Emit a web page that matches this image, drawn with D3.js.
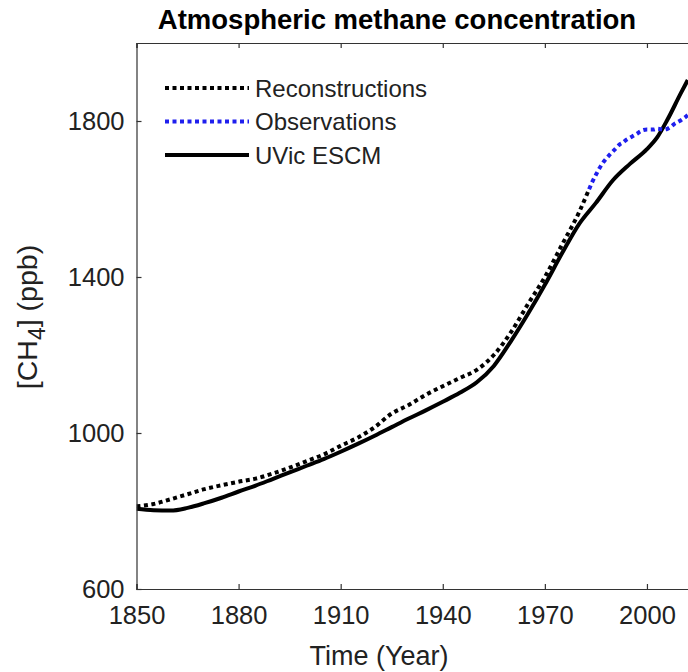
<!DOCTYPE html>
<html>
<head>
<meta charset="utf-8">
<script src="https://cdn.jsdelivr.net/npm/d3@7"></script>
<style>
body { margin: 0; background: #fff; }
svg { font-family: "Liberation Sans", Arial, sans-serif; }
</style>
</head>
<body>
<svg id="chart" width="688" height="672"></svg>
<script>
// reconstructed CH4 (ppb)
var reconYears = [1850,1855,1860,1865,1870,1875,1880,1885,1890,1895,1900,1905,1910,1915,1920,1925,1930,1935,1940,1945,1950,1955,1960,1965,1970,1975,1980,1983];
var reconValues = [812,818,830,843,856,866,875,883,896,911,928,945,967,988,1015,1050,1072,1098,1120,1141,1162,1200,1258,1330,1400,1482,1565,1625];

// observed CH4 (ppb), annual
var obsYears = [1983,1984,1985,1986,1987,1988,1989,1990,1991,1992,1993,1994,1995,1996,1997,1998,1999,2000,2001,2002,2003,2004,2005,2006,2007,2008,2009,2010,2011,2012];
var obsValues = [1625,1645,1662,1678,1692,1703,1713,1722,1731,1740,1745,1752,1757,1762,1767,1773,1777,1778,1778,1778,1780,1779,1778,1780,1785,1792,1797,1802,1808,1815];

// UVic ESCM model
var modelYears = [1850,1855,1860,1865,1870,1875,1880,1885,1890,1895,1900,1905,1910,1915,1920,1925,1930,1935,1940,1945,1950,1955,1960,1965,1970,1975,1980,1985,1990,1995,2000,2003,2006,2010,2012];
var modelValues = [806,802,801,808,820,834,850,865,882,899,916,933,952,972,993,1015,1037,1058,1080,1103,1130,1172,1235,1305,1380,1460,1535,1590,1648,1690,1728,1758,1803,1872,1905];

var xTicks = [1850,1880,1910,1940,1970,2000];
var yTicks = [600,1000,1400,1800];

var legendItems = [
	{name: "Reconstructions", color: "#000", dash: "4,3.5"},
	{name: "Observations", color: "#1f1fee", dash: "4,3.5"},
	{name: "UVic ESCM", color: "#000", dash: null}
];

var svg = d3.select("#chart");
var plotLeft = 136.5, plotTop = 43, plotBottom = 589;

var x = d3.scaleLinear().domain([1850, 2020]).range([plotLeft, plotLeft + 170 * 3.403]);
var y = d3.scaleLinear().domain([600, 2000]).range([plotBottom, plotTop]);

function toPoints(years, vals) {
	return years.map(function(d, i) { return [d, vals[i]]; });
}

var line = d3.line()
	.curve(d3.curveMonotoneX)
	.x(function(d) { return x(d[0]); })
	.y(function(d) { return y(d[1]); });

// clip to plot area
svg.append("clipPath").attr("id", "plotclip")
	.append("rect")
	.attr("x", plotLeft).attr("y", plotTop)
	.attr("width", x(2020) - plotLeft).attr("height", plotBottom - plotTop);

var plot = svg.append("g").attr("clip-path", "url(#plotclip)");

plot.append("path")
	.datum(toPoints(reconYears, reconValues))
	.attr("d", line)
	.attr("fill", "none")
	.attr("stroke", "#000")
	.attr("stroke-width", 4)
	.attr("stroke-dasharray", "4,3.5");

plot.append("path")
	.datum(toPoints(modelYears, modelValues))
	.attr("d", line)
	.attr("fill", "none")
	.attr("stroke", "#000")
	.attr("stroke-width", 4);

plot.append("path")
	.datum(toPoints(obsYears, obsValues))
	.attr("d", line)
	.attr("fill", "none")
	.attr("stroke", "#1f1fee")
	.attr("stroke-width", 4)
	.attr("stroke-dasharray", "4,3.5");

// axes, ticks pointing inward
var axisColor = "#333";
var xAxis = svg.append("g")
	.attr("transform", "translate(0," + plotBottom + ")")
	.call(d3.axisBottom(x).tickValues(xTicks).tickSize(-5).tickPadding(12).tickFormat(d3.format("d")));
var xAxisTop = svg.append("g")
	.attr("transform", "translate(0," + plotTop + ")")
	.call(d3.axisTop(x).tickValues(xTicks).tickSize(-5).tickFormat(""));
var yAxis = svg.append("g")
	.attr("transform", "translate(" + plotLeft + ",0)")
	.call(d3.axisLeft(y).tickValues(yTicks).tickSize(-5).tickPadding(12).tickFormat(d3.format("d")));

[xAxis, xAxisTop, yAxis].forEach(function(a) {
	a.select(".domain").attr("stroke", axisColor).attr("stroke-width", 1.2);
	a.selectAll(".tick line").attr("stroke", axisColor).attr("stroke-width", 1.2);
	a.selectAll("text").attr("fill", "#222").style("font-size", "25.5px").style("font-family", "'Liberation Sans', Arial, sans-serif");
});
xAxis.selectAll("text").attr("dy", "0.92em");

// title
svg.append("text")
	.attr("x", 397).attr("y", 29)
	.attr("text-anchor", "middle")
	.style("font-size", "27.5px")
	.style("font-weight", "bold")
	.attr("fill", "#000")
	.text("Atmospheric methane concentration");

// x label
svg.append("text")
	.attr("x", 379).attr("y", 665)
	.attr("text-anchor", "middle")
	.style("font-size", "27px")
	.attr("fill", "#222")
	.text("Time (Year)");

// y label with subscript
var yl = svg.append("text")
	.attr("transform", "translate(37,317) rotate(-90)")
	.attr("text-anchor", "middle")
	.style("font-size", "28.5px")
	.attr("fill", "#222");
yl.append("tspan").text("[CH");
yl.append("tspan").attr("dy", 8).style("font-size", "23px").text("4");
yl.append("tspan").attr("dy", -8).text("] (ppb)");

// legend
var legend = svg.append("g").selectAll(".legend-item")
	.data(legendItems)
	.enter()
	.append("g")
	.classed("legend-item", true)
	.attr("transform", function(d, i) { return "translate(165," + (88 + i * 33.5) + ")"; });

legend.append("line")
	.attr("x1", 0).attr("x2", 84)
	.attr("stroke", function(d) { return d.color; })
	.attr("stroke-width", 4)
	.attr("stroke-dasharray", function(d) { return d.dash; });

legend.append("text")
	.attr("x", 90).attr("y", 8.5)
	.style("font-size", "24px")
	.attr("fill", "#222")
	.text(function(d) { return d.name; });
</script>
</body>
</html>
